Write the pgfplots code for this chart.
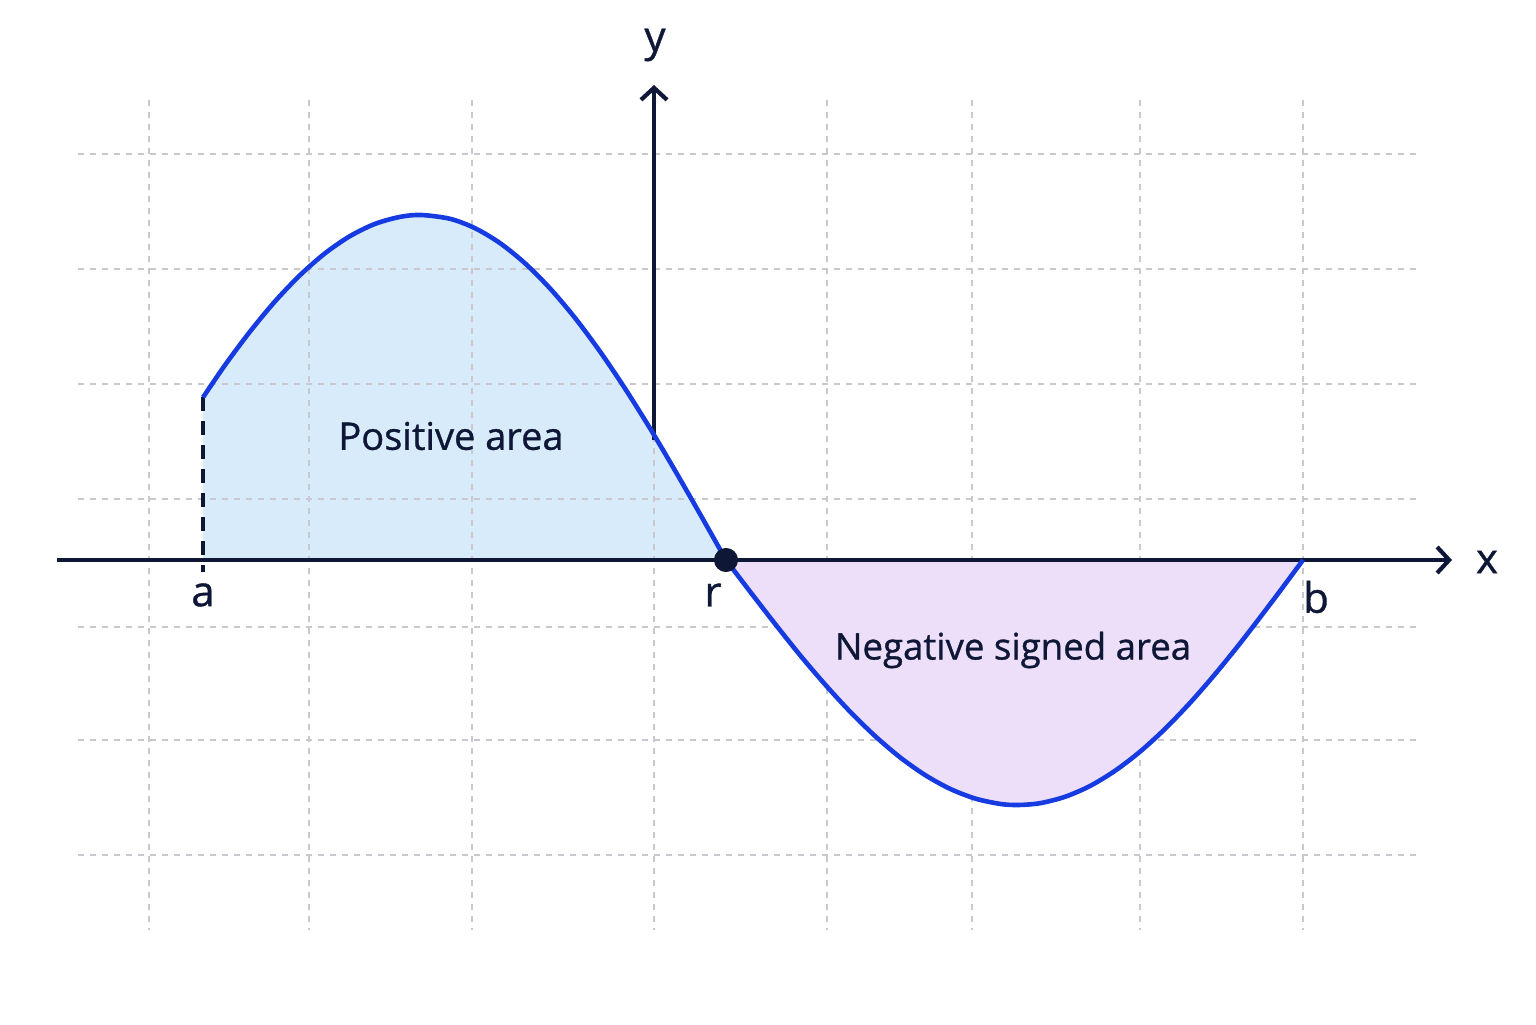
\documentclass[border=0pt]{standalone}
\usepackage{pgfplots}
\pgfplotsset{compat=1.18}
\usepackage{pgfplotstable}
\usepgfplotslibrary{fillbetween}
\usetikzlibrary{arrows.meta}
\usepackage{fontspec}
\setmainfont{Open Sans}[FakeBold=0.9]
\definecolor{curveblue}{RGB}{22,60,225}
\definecolor{posfill}{RGB}{216,235,251}
\definecolor{negfill}{RGB}{237,223,250}
\definecolor{navy}{RGB}{15,23,55}
\definecolor{gridgray}{RGB}{200,200,206}
\pgfplotstableread{
x y
203 397.4
225 365.1
250 331.6
275 301.4
300 275.2
325 253.3
350 236.1
375 223.9
400 216.9
421 215
450 218.8
475 228.2
500 243.1
525 263.3
550 288.4
575 317.9
600 351.5
625 388.5
650 428.3
675 470.5
700 514.0
726 560
}\pos
\pgfplotstableread{
x y
726 560
750 591.5
775 623.8
800 655.1
825 684.4
850 711.6
875 736.0
900 757.3
925 775.0
950 788.8
975 798.5
1000 803.9
1018 805
1040 803.2
1065 796.8
1090 786.0
1115 770.8
1140 751.7
1165 728.9
1190 702.9
1215 674.2
1240 643.4
1265 610.9
1285 584.3
1303 560
}\neg
\begin{document}
\begin{tikzpicture}
\begin{axis}[
  width=768pt, height=512pt, scale only axis,
  xmin=0, xmax=1536, ymin=0, ymax=1024, y dir=reverse,
  hide axis, clip=false,
]
\addplot[draw=none] coordinates {(0,0)(1536,1024)};
% grid
\pgfplotsinvokeforeach{149,309,472,654,827,972,1140,1303}{
  \addplot[gridgray, line width=0.8pt, dash pattern=on 3pt off 3pt] coordinates {(#1,100)(#1,930)};
}
\pgfplotsinvokeforeach{154,269,384,499,627,740,855}{
  \addplot[gridgray, line width=0.8pt, dash pattern=on 3pt off 3pt] coordinates {(78,#1)(1418,#1)};
}
% base and curves
\addplot[name path=base, draw=none] coordinates {(57,560)(1452,560)};
\addplot[name path=pc, draw=none, smooth] table {\pos};
\addplot[posfill] fill between[of=pc and base, soft clip={domain=203:726}];
\addplot[negfill, draw=none, fill=negfill, smooth] table {\neg} -- cycle;
% x axis
\addplot[navy, line width=2.1pt, -{Straight Barb[length=6pt,width=13pt,line width=2.1pt]}] coordinates {(57,560)(1452,560)};
% y axis
\addplot[navy, line width=2.1pt, -{Straight Barb[length=6pt,width=13pt,line width=2.1pt]}] coordinates {(654,440)(654,85)};
% dashed at a
\addplot[navy, line width=1.8pt, dash pattern=on 7pt off 5pt] coordinates {(203,397)(203,572)};
% curve
\addplot[curveblue, line width=2.3pt, smooth] table {\pos};
\addplot[curveblue, line width=2.3pt, smooth] table {\neg};
% root dot
\addplot[only marks, mark=*, mark size=5.8pt, navy] coordinates {(726,560)};
% labels
\node[navy, font=\fontsize{21}{24}\selectfont] at (axis cs:655,45) {y};
\node[navy, font=\fontsize{21}{24}\selectfont] at (axis cs:1487,562) {x};
\node[navy, font=\fontsize{21}{24}\selectfont] at (axis cs:203,595) {a};
\node[navy, font=\fontsize{21}{24}\selectfont] at (axis cs:713,595) {r};
\node[navy, font=\fontsize{21}{24}\selectfont] at (axis cs:1316,597) {b};
\node[navy, font=\fontsize{19}{22}\selectfont] at (axis cs:451,436) {Positive area};
\node[navy, font=\fontsize{18.3}{22}\selectfont] at (axis cs:1013,650) {Negative signed area};
\end{axis}
\end{tikzpicture}
\end{document}
